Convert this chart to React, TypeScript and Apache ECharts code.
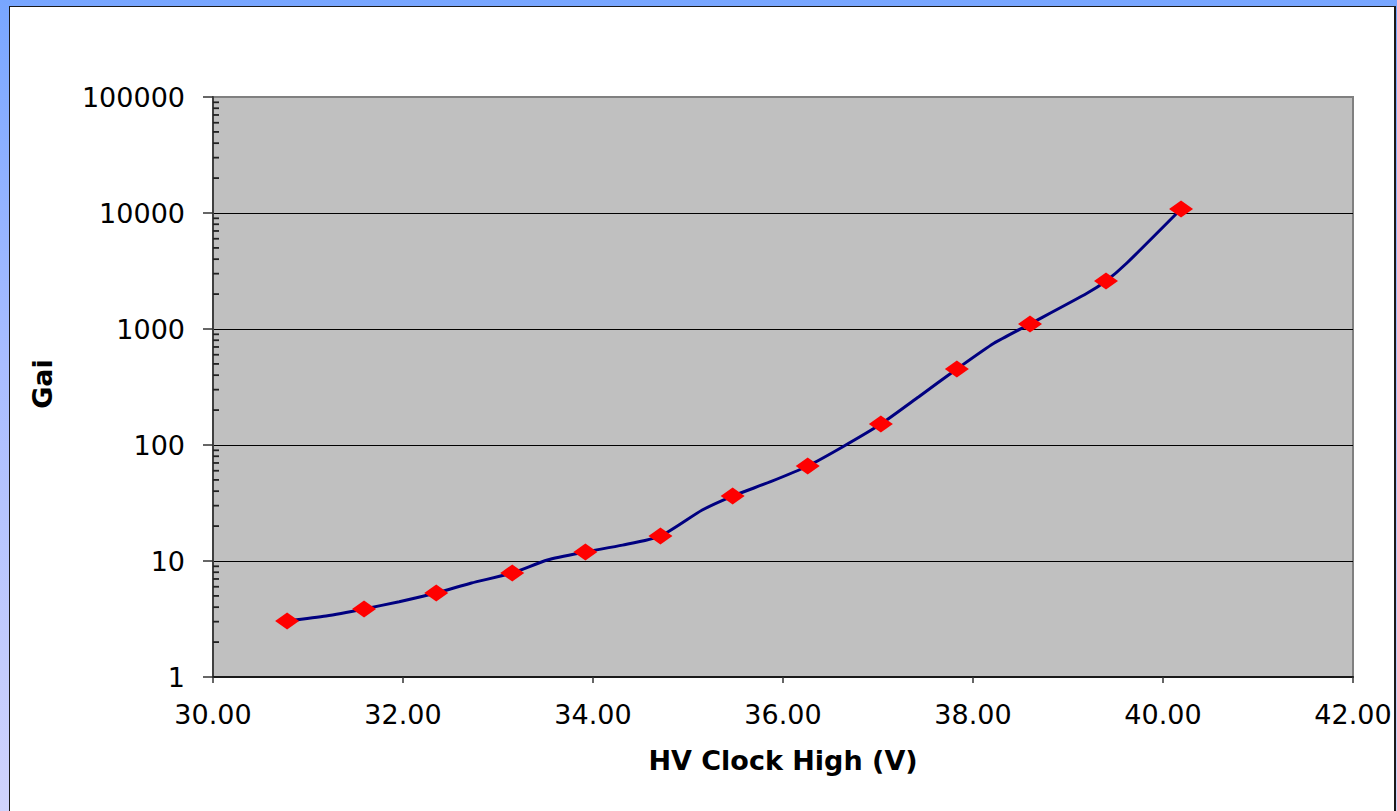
import React, { useEffect, useRef } from "react";
import * as echarts from "echarts";

// Marker points (HV Clock High in volts, Gain)
const markerVoltages = [30.78, 31.59, 32.35, 33.15, 33.92, 34.71, 35.47, 36.26, 37.03, 37.83, 38.6, 39.4, 40.19];
const markerGains = [3.04, 3.86, 5.3, 7.88, 11.96, 16.4, 36.3, 65.9, 151.7, 452, 1105, 2593, 10826];

// Intermediate points of the connecting curve (no markers)
const midVoltages = [31.19, 31.96, 32.72, 33.52, 34.31, 35.15, 35.87, 36.63, 37.43, 38.22, 39.2, 39.62];
const midGains = [3.36, 4.46, 6.46, 10.2, 13.7, 27.5, 48.3, 96.7, 261, 753, 2032, 3707];

// Axis ticks
const xTickMin = 30;
const xTickMax = 42;
const xTickStep = 2;
const yTickMin = 1;
const yTickMax = 100000;
const yMinorMantissas = [2, 3, 4, 5, 6, 7, 8, 9];
const yDecades = [1, 10, 100, 1000, 10000];

const xAxisTitle = "HV Clock High (V)";
const yAxisTitle = "Gai";

const FONT = "DejaVu Sans";

export default function App() {
  const ref = useRef<HTMLDivElement>(null);

  useEffect(() => {
    if (!ref.current) return;
    const chart = echarts.init(ref.current, undefined, { renderer: "svg" });

    const lineData: number[][] = [];
    for (let i = 0; i < markerVoltages.length; i++) {
      lineData.push([markerVoltages[i], markerGains[i]]);
      if (i < midVoltages.length) lineData.push([midVoltages[i], midGains[i]]);
    }
    const markerData = markerVoltages.map((v, i) => [v, markerGains[i]]);
    const minorTickData: number[][] = [];
    yDecades.forEach((d) => yMinorMantissas.forEach((m) => minorTickData.push([xTickMin, m * d])));

    chart.setOption({
      animation: false,
      backgroundColor: "transparent",
      grid: {
        left: 213,
        top: 97,
        width: 1140,
        height: 580,
        show: true,
        backgroundColor: "#c0c0c0",
        borderColor: "#808080",
        borderWidth: 2,
      },
      xAxis: {
        type: "value",
        min: xTickMin,
        max: xTickMax,
        interval: xTickStep,
        name: xAxisTitle,
        nameLocation: "middle",
        nameGap: 70,
        nameTextStyle: { fontFamily: FONT, fontWeight: "bold", fontSize: 27, color: "#000" },
        axisLine: { show: true, lineStyle: { color: "#1a1a1a", width: 2 } },
        axisTick: { show: true, inside: false, length: 6, lineStyle: { color: "#333", width: 1.5 } },
        axisLabel: {
          margin: 24,
          fontFamily: FONT,
          fontSize: 27,
          color: "#000",
          formatter: (v: number) => v.toFixed(2),
        },
        splitLine: { show: false },
      },
      yAxis: {
        type: "log",
        logBase: 10,
        min: yTickMin,
        max: yTickMax,
        axisLine: { show: true, lineStyle: { color: "#404040", width: 2 } },
        axisTick: { show: true, inside: false, length: 10, lineStyle: { color: "#333", width: 1.5 } },
        axisLabel: {
          margin: 28,
          fontFamily: FONT,
          fontSize: 27,
          color: "#000",
          formatter: (v: number) => String(Math.round(v)),
        },
        splitLine: {
          show: true,
          lineStyle: { color: ["#000", "#000", "#000", "#000", "#000", "#808080"], width: 1.2 },
        },
      },
      graphic: [
        {
          type: "text",
          x: 42,
          y: 384,
          rotation: Math.PI / 2,
          style: {
            text: yAxisTitle,
            fontFamily: FONT,
            fontWeight: "bold",
            fontSize: 27,
            fill: "#000",
            align: "center",
            verticalAlign: "middle",
          },
        },
      ],
      series: [
        {
          type: "custom",
          silent: true,
          clip: false,
          z: 5,
          data: minorTickData,
          encode: { x: 0, y: 1 },
          renderItem: (_params: any, api: any) => {
            const p = api.coord([api.value(0), api.value(1)]);
            return {
              type: "line",
              shape: { x1: p[0], y1: p[1], x2: p[0] + 6, y2: p[1] },
              style: { stroke: "#222", lineWidth: 1.8 },
            };
          },
        },
        {
          type: "line",
          data: lineData,
          smooth: 0.2,
          symbol: "none",
          lineStyle: { color: "#000080", width: 3 },
          z: 3,
        },
        {
          type: "scatter",
          data: markerData,
          symbol: "diamond",
          symbolSize: [24, 17],
          itemStyle: { color: "#ff0000", opacity: 1 },
          z: 4,
        },
      ],
    });

    return () => chart.dispose();
  }, []);

  return (
    <div
      style={{
        position: "fixed",
        left: 0,
        top: 0,
        width: 1397,
        height: 811,
        overflow: "hidden",
        background: "linear-gradient(180deg, #78a6ff 0%, #a9bdff 45%, #d0d3fc 100%)",
      }}
    >
      <div
        style={{
          position: "absolute",
          left: 9,
          top: 6,
          width: 1384,
          height: 820,
          background: "#ffffff",
          borderLeft: "1.5px solid #1a1a1a",
          borderTop: "1.5px solid #1a1a1a",
          borderRight: "2px solid #1a1a1a",
        }}
      />
      <div ref={ref} style={{ position: "absolute", left: 0, top: 0, width: 1397, height: 811 }} />
    </div>
  );
}
